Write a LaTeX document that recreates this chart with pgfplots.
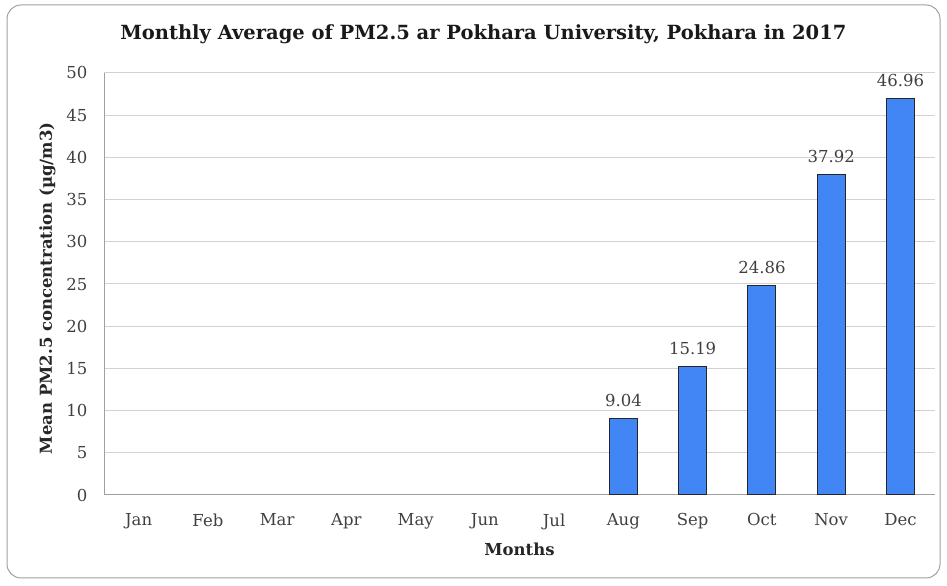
\documentclass[border=0pt]{standalone}
\usepackage{fontspec}
\setmainfont{DejaVu Serif}
\usepackage{pgfplots}
\pgfplotsset{compat=1.18}
\definecolor{barblue}{RGB}{66,133,244}
\definecolor{txtgray}{RGB}{64,64,64}
\definecolor{gridgray}{RGB}{210,210,210}
\definecolor{axgray}{RGB}{160,160,160}
\begin{document}
\begin{tikzpicture}[x=1bp,y=1bp]
\path[use as bounding box] (0,0) rectangle (947,586);
\draw[rounded corners=14bp, draw=axgray, line width=1bp] (7,8) rectangle (940,581);
\begin{axis}[
  at={(104bp,91bp)}, anchor=south west,
  scale only axis, width=831bp, height=422bp,
  xmin=-0.5, xmax=11.5, ymin=0, ymax=50,
  ytick={0,5,...,50}, xtick={0,...,11},
  xticklabels={Jan,Feb,Mar,Apr,May,Jun,Jul,Aug,Sep,Oct,Nov,Dec},
  axis x line*=bottom, axis y line*=left,
  axis line style={draw=axgray, line width=1bp, -},
  major tick length=0pt,
  ymajorgrids, grid style={gridgray, line width=1bp},
  /pgf/number format/assume math mode=true,
  tick label style={font=\fontsize{16.5bp}{19bp}\selectfont, text=txtgray},
  yticklabel style={xshift=-13bp},
  xticklabel style={yshift=-15bp},
  title={\textbf{Monthly Average of PM2.5 ar Pokhara University, Pokhara in 2017}},
  title style={font=\fontsize{19.5bp}{22bp}\selectfont, text=black!90, at={(axis description cs:0.4565,1)}, anchor=center, yshift=33bp},
  xlabel={\textbf{Months}},
  xlabel style={font=\fontsize{16.5bp}{19bp}\selectfont, text=black!85, at={(axis description cs:0.5,0)}, anchor=center, yshift=-54bp},
  ylabel={\textbf{Mean PM2.5 concentration (µg/m3)}},
  ylabel style={font=\fontsize{16.5bp}{19bp}\selectfont, text=black!85, at={([xshift=-56.5bp]axis description cs:0,0.49)}, anchor=center},
  clip=false,
]
\addplot[ybar, bar width=28bp, fill=barblue, draw=black!85, line width=1bp,
  nodes near coords,
  nodes near coords style={font=\fontsize{16.5bp}{19bp}\selectfont, text=txtgray, yshift=8bp,
    /pgf/number format/.cd, fixed, precision=2, fixed zerofill}]
  coordinates {(7,9.04) (8,15.19) (9,24.86) (10,37.92) (11,46.96)};
\end{axis}
\end{tikzpicture}
\end{document}
